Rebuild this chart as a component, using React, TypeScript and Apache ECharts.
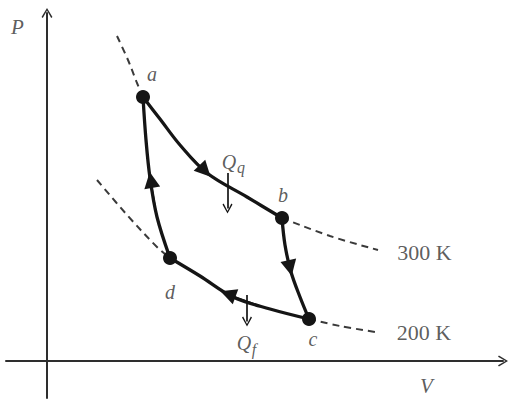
import React, { useEffect, useRef } from "react";
import * as echarts from "echarts";

// State points of the cycle (V, P in arbitrary units)
const stateNames = ["a", "b", "c", "d"];
const stateV = [1.92, 4.7, 5.24, 2.46];
const stateP = [6.6, 3.575, 1.05, 2.575];

// Legs of the cycle
const legAB_V = [1.92, 2.26, 2.66, 3.2, 4.0, 4.7];
const legAB_P = [6.6, 6.05, 5.4, 4.7, 4.1, 3.575];
const legBC_V = [4.7, 4.76, 4.88, 5.06, 5.24];
const legBC_P = [3.575, 2.9, 2.225, 1.6, 1.05];
const legCD_V = [5.24, 4.46, 3.72, 3.06, 2.46];
const legCD_P = [1.05, 1.3, 1.6, 2.125, 2.575];
const legDA_V = [2.46, 2.2, 2.06, 1.98, 1.92];
const legDA_P = [2.575, 3.6, 4.575, 5.525, 6.6];

// Dashed isotherm extensions
const iso300Left_V = [1.4, 1.62, 1.8, 1.92];
const iso300Left_P = [8.125, 7.525, 6.95, 6.6];
const iso300Right_V = [4.7, 5.66, 6.62];
const iso300Right_P = [3.575, 3.125, 2.775];
const iso200Left_V = [1.0, 1.62, 2.22, 2.46];
const iso200Left_P = [4.525, 3.625, 2.825, 2.575];
const iso200Right_V = [5.24, 5.86, 6.56];
const iso200Right_P = [1.05, 0.875, 0.725];

// Direction arrowheads: from -> to (arrow drawn at "to")
const dirFromV = [2.66, 4.76, 4.28, 2.2];
const dirFromP = [5.4, 2.9, 1.375, 3.6];
const dirToV = [3.16, 4.86, 3.62, 2.08];
const dirToP = [4.75, 2.325, 1.675, 4.525];

// Heat-flow arrows
const heatArrowV = [3.61, 4.0];
const heatArrowTopP = [4.7, 1.65];
const heatArrowBottomP = [3.81, 0.985];

// Labels
const stateLabelV = [2.1, 4.72, 5.32, 2.46];
const stateLabelP = [7.175, 4.15, 0.55, 1.725];
const heatMain = ["Q", "Q"];
const heatMainV = [3.64, 3.94];
const heatMainP = [4.975, 0.4625];
const heatSub = ["q", "f"];
const heatSubV = [3.88, 4.14];
const heatSubP = [4.84, 0.3];
const tempLabels = ["300 K", "200 K"];
const tempLabelV = [7.55, 7.54];
const tempLabelP = [2.725, 0.725];
const axisNames = ["P", "V"];
const axisNameV = [-0.59, 7.59];
const axisNameP = [8.36, -0.63];

const dark = "#151515";
const axisColor = "#2e2e2e";
const textColor = "#333";
const serif = "'Liberation Serif', 'DejaVu Serif', serif";
const chevron = "path://M0,10 L6,0 L12,10 L10.6,11 L6,2.8 L1.4,11 Z";

const pts = (v: number[], p: number[]) => v.map((x, i) => [x, p[i]]);

const curve = (v: number[], p: number[], dashed: boolean) => ({
  type: "line",
  data: pts(v, p),
  smooth: 0.35,
  symbol: "none",
  showSymbol: false,
  silent: true,
  z: dashed ? 2 : 3,
  lineStyle: dashed
    ? { color: "#3a3a3a", width: 2, type: [7, 5] }
    : { color: dark, width: 3.3 },
});

const textSeries = (
  names: string[],
  v: number[],
  p: number[],
  fontSize: number,
  italic: boolean
) => ({
  type: "scatter",
  silent: true,
  symbolSize: 1,
  itemStyle: { color: "rgba(0,0,0,0)" },
  z: 10,
  data: names.map((n, i) => ({ name: n, value: [v[i], p[i]] })),
  label: {
    show: true,
    position: "inside",
    formatter: "{b}",
    color: textColor,
    fontFamily: serif,
    fontStyle: italic ? "italic" : "normal",
    fontSize,
    lineHeight: Math.round(fontSize * 0.85),
  },
});

export default function App() {
  const ref = useRef<HTMLDivElement>(null);
  useEffect(() => {
    if (!ref.current) return;
    const chart = echarts.init(ref.current, null, { renderer: "svg" });
    const axisCommon = {
      type: "value",
      axisTick: { show: false },
      axisLabel: { show: false },
      splitLine: { show: false },
    };
    chart.setOption({
      animation: false,
      backgroundColor: "#ffffff",
      grid: { left: 6, right: 9, top: 13, bottom: 1 },
      xAxis: {
        ...axisCommon,
        min: -0.82,
        max: 9.12,
        axisLine: {
          onZero: true,
          lineStyle: { color: axisColor, width: 2 },
          symbol: ["none", chevron],
          symbolSize: [12, 10],
        },
      },
      yAxis: {
        ...axisCommon,
        min: -0.925,
        max: 8.7,
        axisLine: {
          onZero: true,
          lineStyle: { color: axisColor, width: 2 },
          symbol: ["none", chevron],
          symbolSize: [12, 10],
        },
      },
      series: [
        curve(iso300Left_V, iso300Left_P, true),
        curve(iso300Right_V, iso300Right_P, true),
        curve(iso200Left_V, iso200Left_P, true),
        curve(iso200Right_V, iso200Right_P, true),
        curve(legAB_V, legAB_P, false),
        curve(legBC_V, legBC_P, false),
        curve(legCD_V, legCD_P, false),
        curve(legDA_V, legDA_P, false),
        {
          type: "lines",
          coordinateSystem: "cartesian2d",
          silent: true,
          z: 4,
          symbol: ["none", "triangle"],
          symbolSize: [12, 16],
          lineStyle: { color: dark, width: 1, opacity: 1 },
          data: dirToV.map((_, i) => ({
            coords: [
              [dirFromV[i], dirFromP[i]],
              [dirToV[i], dirToP[i]],
            ],
          })),
        },
        {
          type: "lines",
          coordinateSystem: "cartesian2d",
          silent: true,
          z: 4,
          symbol: ["none", chevron],
          symbolSize: [12, 10],
          lineStyle: { color: dark, width: 1.7, opacity: 1 },
          data: heatArrowV.map((v, i) => ({
            coords: [
              [v, heatArrowTopP[i]],
              [v, heatArrowBottomP[i]],
            ],
          })),
        },
        {
          type: "scatter",
          silent: true,
          z: 6,
          symbolSize: 14,
          itemStyle: { color: dark, opacity: 1 },
          data: stateNames.map((n, i) => ({ name: n, value: [stateV[i], stateP[i]] })),
        },
        textSeries(stateNames, stateLabelV, stateLabelP, 20, true),
        textSeries(heatMain, heatMainV, heatMainP, 20, true),
        textSeries(heatSub, heatSubV, heatSubP, 16, true),
        textSeries(tempLabels, tempLabelV, tempLabelP, 22, false),
        textSeries(axisNames, axisNameV, axisNameP, 21, true),
      ],
    });
    return () => chart.dispose();
  }, []);
  return (
    <div
      ref={ref}
      style={{ position: "fixed", left: 0, top: 0, width: 512, height: 399, background: "#fff" }}
    />
  );
}
